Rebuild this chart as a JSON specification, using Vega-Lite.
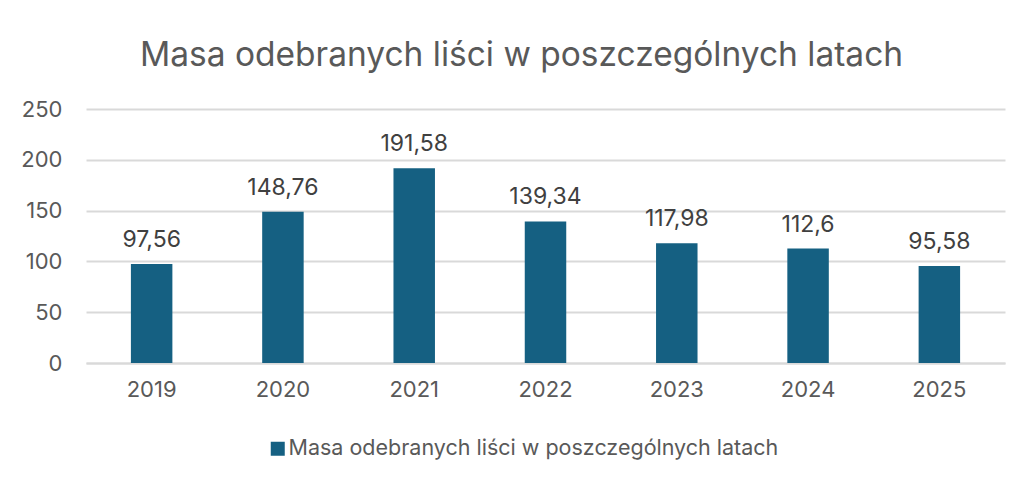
{
  "$schema": "https://vega.github.io/schema/vega-lite/v6.json",
  "autosize": {"type": "none"},
  "width": 919,
  "height": 254,
  "padding": {"left": 86, "top": 109, "right": 18, "bottom": 116},
  "background": "white",
  "config": {
    "locale": {"number": {"decimal": ",", "thousands": " ", "grouping": [3], "currency": ["", " zł"]}},
    "font": "Inter",
    "view": {"stroke": null}
  },
  "title": {
    "text": "Masa odebranych liści w poszczególnych latach",
    "fontSize": 33.5,
    "fontWeight": "normal",
    "color": "#595959",
    "font": "Inter",
    "frame": "group",
    "anchor": "middle",
    "baseline": "alphabetic",
    "offset": -1,
    "dx": -24
  },
  "data": {
    "values": [
      {"year": "2019", "value": 97.56},
      {"year": "2020", "value": 148.76},
      {"year": "2021", "value": 191.58},
      {"year": "2022", "value": 139.34},
      {"year": "2023", "value": 117.98},
      {"year": "2024", "value": 112.6},
      {"year": "2025", "value": 95.58}
    ]
  },
  "encoding": {
    "x": {
      "field": "year",
      "type": "nominal",
      "title": null,
      "scale": {"paddingInner": 0.684, "paddingOuter": 0.342},
      "axis": {
        "labelAngle": 0,
        "labelFontSize": 22,
        "labelColor": "#595959",
        "labelPadding": 16,
        "ticks": false,
        "domainColor": "#d9d9d9",
        "domainWidth": 2,
        "grid": false
      }
    },
    "y": {
      "field": "value",
      "type": "quantitative",
      "title": null,
      "scale": {"domain": [0, 250]},
      "axis": {
        "values": [0, 50, 100, 150, 200, 250],
        "labelFontSize": 22,
        "labelColor": "#595959",
        "labelPadding": 24,
        "ticks": false,
        "domain": false,
        "gridColor": "#d9d9d9",
        "gridWidth": 2
      }
    }
  },
  "layer": [
    {
      "mark": {"type": "bar"},
      "encoding": {
        "color": {
          "datum": "Masa odebranych liści w poszczególnych latach",
          "scale": {"range": ["#156082"]},
          "legend": {
            "title": null,
            "orient": "none",
            "legendX": 181,
            "legendY": 329,
            "symbolType": "square",
            "symbolSize": 196,
            "symbolStrokeWidth": 0,
            "labelFontSize": 21.5,
            "labelColor": "#595959",
            "labelOffset": 0,
            "labelLimit": 0
          }
        }
      }
    },
    {
      "mark": {"type": "text", "baseline": "alphabetic", "dy": -17, "fontSize": 23, "color": "#404040"},
      "encoding": {
        "text": {"field": "value", "type": "quantitative", "format": "~g"}
      }
    }
  ]
}
